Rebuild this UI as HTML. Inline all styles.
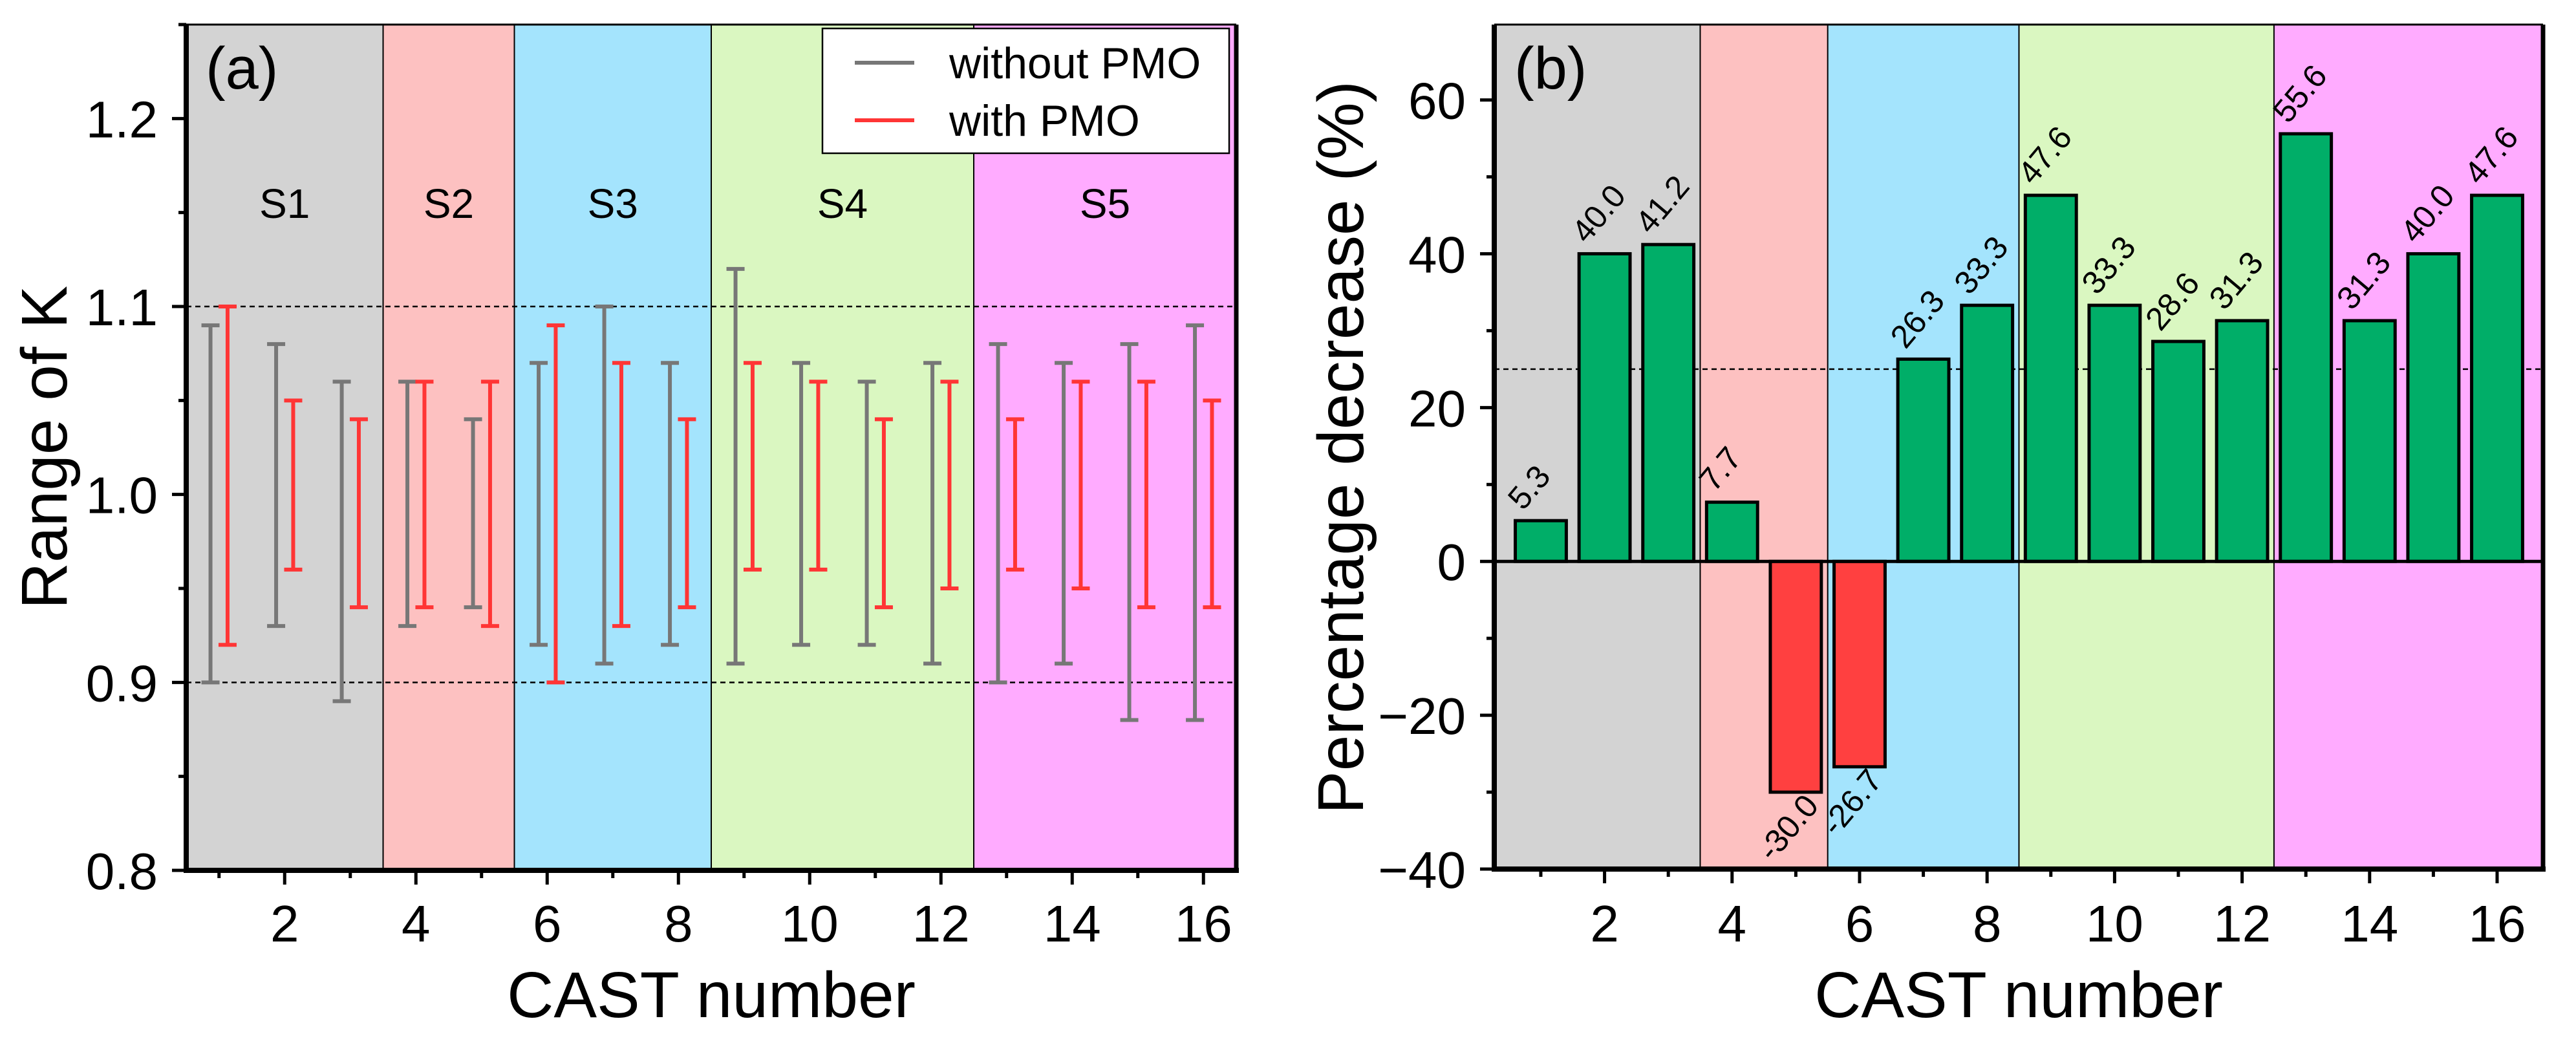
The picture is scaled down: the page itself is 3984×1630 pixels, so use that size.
<!DOCTYPE html>
<html><head><meta charset="utf-8"><style>
body{margin:0;background:#fff}
svg{display:block;font-family:"Liberation Sans",Arial,sans-serif}
</style></head><body>
<svg id="chart" width="3984" height="1630" viewBox="0 0 3984 1630" xmlns="http://www.w3.org/2000/svg">
<g id="pa"></g>
<g id="pb"></g>
</svg>
<script>
const casts = [1,2,3,4,5,6,7,8,9,10,11,12,13,14,15,16];
const grayLow  = [0.90,0.93,0.89,0.93,0.94,0.92,0.91,0.92,0.91,0.92,0.92,0.91,0.90,0.91,0.88,0.88];
const grayHigh = [1.09,1.08,1.06,1.06,1.04,1.07,1.10,1.07,1.12,1.07,1.06,1.07,1.08,1.07,1.08,1.09];
const redLow   = [0.92,0.96,0.94,0.94,0.93,0.90,0.93,0.94,0.96,0.96,0.94,0.95,0.96,0.95,0.94,0.94];
const redHigh  = [1.10,1.05,1.04,1.06,1.06,1.09,1.07,1.04,1.07,1.06,1.04,1.06,1.04,1.06,1.06,1.05];
const decrease = [5.3,40.0,41.2,7.7,-30.0,-26.7,26.3,33.3,47.6,33.3,28.6,31.3,55.6,31.3,40.0,47.6];
const groups = ["S1","S2","S3","S4","S5"];
const groupStart = [0,3.5,5.5,8.5,12.5];
const groupEnd = [3.5,5.5,8.5,12.5,17];
const groupColors = ["#d3d3d3","#fdc1c1","#a4e4fd","#daf7c1","#ffabff"];
const yTicksA = [0.8,0.9,1.0,1.1,1.2];
const yTicksB = [-40,-20,0,20,40,60];
const xTicks = [2,4,6,8,10,12,14,16];

const NS="http://www.w3.org/2000/svg";
function mk(parent,tag,attrs,text){const e=document.createElementNS(NS,tag);for(const k in attrs)e.setAttribute(k,attrs[k]);if(text!==undefined)e.textContent=text;parent.appendChild(e);return e;}

// ---------- Panel A ----------
const pa=document.getElementById('pa');
const A={l:288,r:1912,t:38,b:1346,x0:0.5,x1:16.5,y0:0.8,y1:1.25};
const xa=v=>A.l+(v-A.x0)/(A.x1-A.x0)*(A.r-A.l);
const ya=v=>A.b-(v-A.y0)/(A.y1-A.y0)*(A.b-A.t);
groups.forEach((g,i)=>{
  const x1=xa(groupStart[i]), x2=Math.min(xa(groupEnd[i]),A.r);
  const x1c=Math.max(x1,A.l);
  const r=mk(pa,'rect',{x:x1c,y:A.t,width:x2-x1c,height:A.b-A.t,fill:groupColors[i]});
  
  
  if(i>0){const l=mk(pa,'line',{x1:x1,x2:x1,y1:A.t,y2:A.b,stroke:'#000','stroke-width':2});
    }
  const t=mk(pa,'text',{x:(x1c+x2)/2,y:ya(1.155)+23,'font-size':64,'text-anchor':'middle'},g);
  
});
[1.1,0.9].forEach(v=>{const l=mk(pa,'line',{x1:A.l,x2:A.r,y1:ya(v),y2:ya(v),stroke:'#000','stroke-width':2.5,'stroke-dasharray':'8,6'});
  });
function errbar(parent,x,lo,hi,col,name){
  const g=mk(parent,'g',{});
  
  const cw=14;
  mk(g,'line',{x1:x,x2:x,y1:ya(lo),y2:ya(hi),stroke:col,'stroke-width':6});
  mk(g,'line',{x1:x-cw,x2:x+cw,y1:ya(lo),y2:ya(lo),stroke:col,'stroke-width':6});
  mk(g,'line',{x1:x-cw,x2:x+cw,y1:ya(hi),y2:ya(hi),stroke:col,'stroke-width':6});
}
casts.forEach((c,i)=>{
  errbar(pa,xa(c-0.13),grayLow[i],grayHigh[i],'#777777','range-without-pmo-'+c);
  errbar(pa,xa(c+0.13),redLow[i],redHigh[i],'#ff3535','range-with-pmo-'+c);
});
mk(pa,'line',{x1:A.l,x2:A.r,y1:A.t,y2:A.t,stroke:'#000','stroke-width':3});
mk(pa,'line',{x1:A.r,x2:A.r,y1:A.t,y2:A.b+4,stroke:'#000','stroke-width':7});
const yaxA=mk(pa,'line',{x1:A.l,x2:A.l,y1:A.t,y2:A.b+4,stroke:'#000','stroke-width':8});

const xaxA=mk(pa,'line',{x1:A.l-4,x2:A.r+4,y1:A.b,y2:A.b,stroke:'#000','stroke-width':8});

for(let v=0.8;v<=1.2501;v+=0.05){const maj=Math.abs(Math.round(v*10)-v*10)<1e-6;
  mk(pa,'line',{x1:A.l-(maj?22:12),x2:A.l,y1:ya(v),y2:ya(v),stroke:'#000','stroke-width':5});}
yTicksA.forEach(v=>{const t=mk(pa,'text',{x:244,y:ya(v)+29,'font-size':80,'text-anchor':'end'},v.toFixed(1));
  });
for(let c=1;c<=16;c++){const maj=c%2===0;mk(pa,'line',{x1:xa(c),x2:xa(c),y1:A.b,y2:A.b+(maj?22:12),stroke:'#000','stroke-width':5});}
xTicks.forEach(v=>{const t=mk(pa,'text',{x:xa(v),y:1456,'font-size':80,'text-anchor':'middle'},v);
  });
let t;
t=mk(pa,'text',{x:(A.l+A.r)/2,y:1573,'font-size':100,'text-anchor':'middle'},'CAST number');

t=mk(pa,'text',{x:0,y:0,'font-size':100,'text-anchor':'middle',transform:'translate(103,692) rotate(-90)'},'Range of K');

t=mk(pa,'text',{x:318,y:137,'font-size':92},'(a)');

const lg=mk(pa,'g',{});

mk(lg,'rect',{x:1272,y:44,width:629,height:193,fill:'#fff',stroke:'#000','stroke-width':2.5});
const le1=mk(lg,'g',{});

mk(le1,'line',{x1:1322,x2:1414,y1:97,y2:97,stroke:'#777777','stroke-width':6});
mk(le1,'text',{x:1468,y:121,'font-size':68},'without PMO');
const le2=mk(lg,'g',{});

mk(le2,'line',{x1:1322,x2:1414,y1:186,y2:186,stroke:'#ff3535','stroke-width':6});
mk(le2,'text',{x:1468,y:210,'font-size':68},'with PMO');

// ---------- Panel B ----------
const pb=document.getElementById('pb');
const B={l:2311,r:3933,t:38,b:1344,x0:0.27,x1:16.72,y0:-40,y1:69.8};
const xb=v=>B.l+(v-B.x0)/(B.x1-B.x0)*(B.r-B.l);
const yb=v=>B.b-(v-B.y0)/(B.y1-B.y0)*(B.b-B.t);
groups.forEach((g,i)=>{
  const x1=Math.max(xb(groupStart[i]),B.l), x2=Math.min(xb(groupEnd[i]),B.r);
  const r=mk(pb,'rect',{x:x1,y:B.t,width:x2-x1,height:B.b-B.t,fill:groupColors[i]});
  
  if(i>0){const l=mk(pb,'line',{x1:x1,x2:x1,y1:B.t,y2:B.b,stroke:'#000','stroke-width':2});
    }
});
const ref=mk(pb,'line',{x1:B.l,x2:B.r,y1:yb(25),y2:yb(25),stroke:'#000','stroke-width':2.5,'stroke-dasharray':'8,6'});

const bw=0.8*(B.r-B.l)/(B.x1-B.x0);
casts.forEach((c,i)=>{
  const v=decrease[i];const xc=xb(c);
  const top=Math.min(yb(v),yb(0)),h=Math.abs(yb(v)-yb(0));
  const r=mk(pb,'rect',{x:xc-bw/2,y:top,width:bw,height:h,fill:v>=0?'#00ae68':'#ff4040',stroke:'#000','stroke-width':5});
  
  let lab;
  if(v>=0){lab=mk(pb,'text',{x:0,y:0,'font-size':50,transform:`translate(${xc-bw/2+12},${yb(v)-14}) rotate(-50)`},v.toFixed(1));}
  else{lab=mk(pb,'text',{x:0,y:0,'font-size':50,'text-anchor':'end',transform:`translate(${xc+bw/2-2},${yb(v)+22}) rotate(-50)`},v.toFixed(1));}
  
});
const zl=mk(pb,'line',{x1:B.l,x2:B.r,y1:yb(0),y2:yb(0),stroke:'#000','stroke-width':5});

mk(pb,'line',{x1:B.l,x2:B.r,y1:B.t,y2:B.t,stroke:'#000','stroke-width':3});
mk(pb,'line',{x1:B.r,x2:B.r,y1:B.t,y2:B.b+4,stroke:'#000','stroke-width':7});
const yaxB=mk(pb,'line',{x1:B.l,x2:B.l,y1:B.t,y2:B.b+4,stroke:'#000','stroke-width':8});

const xaxB=mk(pb,'line',{x1:B.l-4,x2:B.r+4,y1:B.b,y2:B.b,stroke:'#000','stroke-width':8});

for(let v=-40;v<=60;v+=10){const maj=v%20===0;mk(pb,'line',{x1:B.l-(maj?22:12),x2:B.l,y1:yb(v),y2:yb(v),stroke:'#000','stroke-width':5});}
yTicksB.forEach(v=>{const t=mk(pb,'text',{x:2267,y:yb(v)+29,'font-size':80,'text-anchor':'end'},v<0?'\u2212'+Math.abs(v):v);
  });
for(let c=1;c<=16;c++){const maj=c%2===0;mk(pb,'line',{x1:xb(c),x2:xb(c),y1:B.b,y2:B.b+(maj?22:12),stroke:'#000','stroke-width':5});}
xTicks.forEach(v=>{const t=mk(pb,'text',{x:xb(v),y:1456,'font-size':80,'text-anchor':'middle'},v);
  });
t=mk(pb,'text',{x:(B.l+B.r)/2,y:1573,'font-size':100,'text-anchor':'middle'},'CAST number');

t=mk(pb,'text',{x:0,y:0,'font-size':100,'text-anchor':'middle',transform:'translate(2108,692) rotate(-90)'},'Percentage decrease (%)');

t=mk(pb,'text',{x:2342,y:137,'font-size':92},'(b)');

</script>
</body></html>
